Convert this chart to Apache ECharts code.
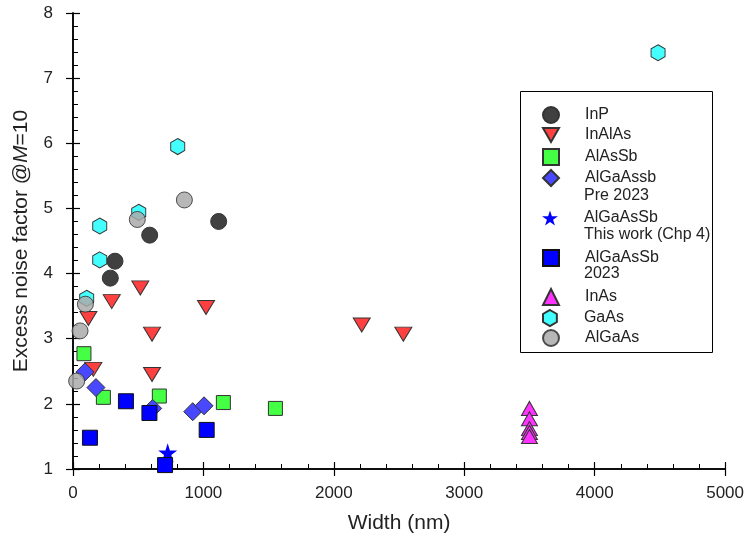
<!DOCTYPE html>
<html><head><meta charset="utf-8">
<script src="https://cdn.jsdelivr.net/npm/echarts@6/dist/echarts.min.js"></script>
<style>html,body{margin:0;padding:0;background:#fff}#c{width:747px;height:547px}</style>
</head><body><div id="c"></div>
<script>
// ---- data ----
const seriesNames = ['InP','InAlAs','AlAsSb','AlGaAssb','AlGaAsSb ','AlGaAsSb','InAs','GaAs','AlGaAs'];
const legendSecondLines = ['Pre 2023','This work (Chp 4)','2023'];
const dataInP = [[286,3.93],[322,4.19],[588,4.59],[1117,4.80]];
const dataInAlAs = [[118,3.31],[156,2.53],[297,3.57],[516,3.78],[606,3.07],[606,2.45],[1020,3.48],[2214,3.21],[2533,3.07]];
const dataAlAsSb = [[84,2.77],[233,2.10],[662,2.12],[1153,2.02],[1552,1.93]];
const dataAlGaAsSbPre = [[92,2.49],[176,2.25],[611,1.93],[918,1.88],[1005,1.97]];
const dataThisWork = [[726,1.25]];
const dataAlGaAsSb2023 = [[130,1.48],[406,2.04],[586,1.86],[706,1.06],[1025,1.60]];
const dataInAs = [[3500,1.93],[3500,1.77],[3500,1.62],[3500,1.56],[3500,1.50]];
const dataGaAs = [[105,3.62],[205,4.21],[205,4.73],[504,4.94],[803,5.95],[4486,7.39]];
const dataAlGaAs = [[28,2.35],[54,3.12],[95,3.53],[493,4.83],[854,5.13]];
const xTicks = [0,1000,2000,3000,4000,5000];
const yTicks = [1,2,3,4,5,6,7,8];

// ---- styles ----
const FONT = 'Liberation Sans, Arial, sans-serif';
const downTri = 'path://M0,0L2,0L1,1.732Z';
const hexagon = 'path://M0.866,0L1.732,0.5L1.732,1.5L0.866,2L0,1.5L0,0.5Z';
const star = 'path://M0,-1L0.2245,-0.309L0.9511,-0.309L0.3633,0.118L0.5878,0.809L0,0.382L-0.5878,0.809L-0.3633,0.118L-0.9511,-0.309L-0.2245,-0.309Z';
const styles = [
  {data:dataInP, symbol:'circle', size:16, color:'#404040'},
  {data:dataInAlAs, symbol:downTri, size:[17,14], color:'#ff4040'},
  {data:dataAlAsSb, symbol:'rect', size:14, color:'#44ff44'},
  {data:dataAlGaAsSbPre, symbol:'diamond', size:[18,18], color:'#4848ff'},
  {data:dataThisWork, symbol:star, size:19, color:'#0000ff', noBorder:true},
  {data:dataAlGaAsSb2023, symbol:'rect', size:15, color:'#0000ff', border:'#111'},
  {data:dataInAs, symbol:'triangle', size:[16,14], color:'#ff33ff'},
  {data:dataGaAs, symbol:hexagon, size:[14,16], color:'#44ffff'},
  {data:dataAlGaAs, symbol:'circle', size:16, color:'#aaaaaa', opacity:0.85}
];

const series = seriesNames.map((n,i)=>{
  const s = styles[i];
  return {
    name:n, type:'scatter', data:s.data, symbol:s.symbol, symbolSize:s.size, clip:false,
    xAxisIndex:0, yAxisIndex:0,
    itemStyle:{color:s.color, borderColor:s.noBorder?'transparent':(s.border||'#333'), borderWidth:s.noBorder?0:1, opacity:s.opacity||1},
    emphasis:{disabled:true}
  };
});

const legendY = [114,135,156,177,218,257,296,317,337];
const legends = seriesNames.map((n,i)=>({
  data:[n], orient:'vertical', left:542, top:legendY[i]-8, padding:0,
  itemWidth:16, itemHeight:16, selectedMode:false,
  textStyle:{fontFamily:FONT, fontSize:16, color:'#222', padding:[0,0,0,21]}
}));

const secondY = [197,236,275];
const graphics = [{type:'rect', shape:{x:520.5,y:91.5,width:192,height:261}, style:{fill:null, stroke:'#000', lineWidth:1}, z:0}]
  .concat(legendSecondLines.map((t,i)=>({type:'text', left:584, top:secondY[i]-9, style:{text:t, font:'16px '+FONT, fill:'#222'}})));

const axisCommon = (isX)=>({
  type:'value', min:isX?xTicks[0]:yTicks[0], max:isX?xTicks[xTicks.length-1]:yTicks[yTicks.length-1],
  interval:isX?1000:1,
  axisLine:{show:true, onZero:false, lineStyle:{color:'#000', width:1.5}},
  splitLine:{show:false}
});

const xMain = Object.assign(axisCommon(true), {
  position:'bottom',
  axisTick:{show:true, inside:false, length:7, lineStyle:{color:'#000', width:1.2}},
  axisLabel:{fontFamily:FONT, fontSize:17, color:'#222', margin:16, formatter:v=>String(v)},
  name:'Width (nm)', nameLocation:'middle', nameGap:44,
  nameTextStyle:{fontFamily:FONT, fontSize:21, color:'#222'}
});
const xInner = Object.assign(axisCommon(true), {
  position:'bottom',
  axisTick:{show:true, inside:true, length:7, lineStyle:{color:'#000', width:1.2}},
  minorTick:{show:true, splitNumber:5, length:5, lineStyle:{color:'#000', width:1}},
  axisLabel:{show:false}
});
const yMain = Object.assign(axisCommon(false), {
  position:'left',
  axisTick:{show:true, inside:false, length:7, lineStyle:{color:'#000', width:1.2}},
  axisLabel:{fontFamily:FONT, fontSize:17, color:'#222', margin:20},
  name:'Excess noise factor @{i|M}=10', nameLocation:'middle', nameGap:41, nameRotate:90,
  nameTextStyle:{fontFamily:FONT, fontSize:21, color:'#222', rich:{i:{fontFamily:FONT, fontSize:21, fontStyle:'italic', color:'#222'}}}
});
const yInner = Object.assign(axisCommon(false), {
  position:'left',
  axisTick:{show:true, inside:true, length:7, lineStyle:{color:'#000', width:1.2}},
  minorTick:{show:true, splitNumber:5, length:5, lineStyle:{color:'#000', width:1}},
  axisLabel:{show:false}
});

const chart = echarts.init(document.getElementById('c'), null, {renderer:'canvas'});
chart.setOption({
  animation:false,
  backgroundColor:'#fff',
  grid:{left:73, right:21, top:13, bottom:78, containLabel:false},
  xAxis:[xMain, xInner],
  yAxis:[yMain, yInner],
  legend:legends,
  graphic:graphics,
  series:series
});
</script></body></html>
